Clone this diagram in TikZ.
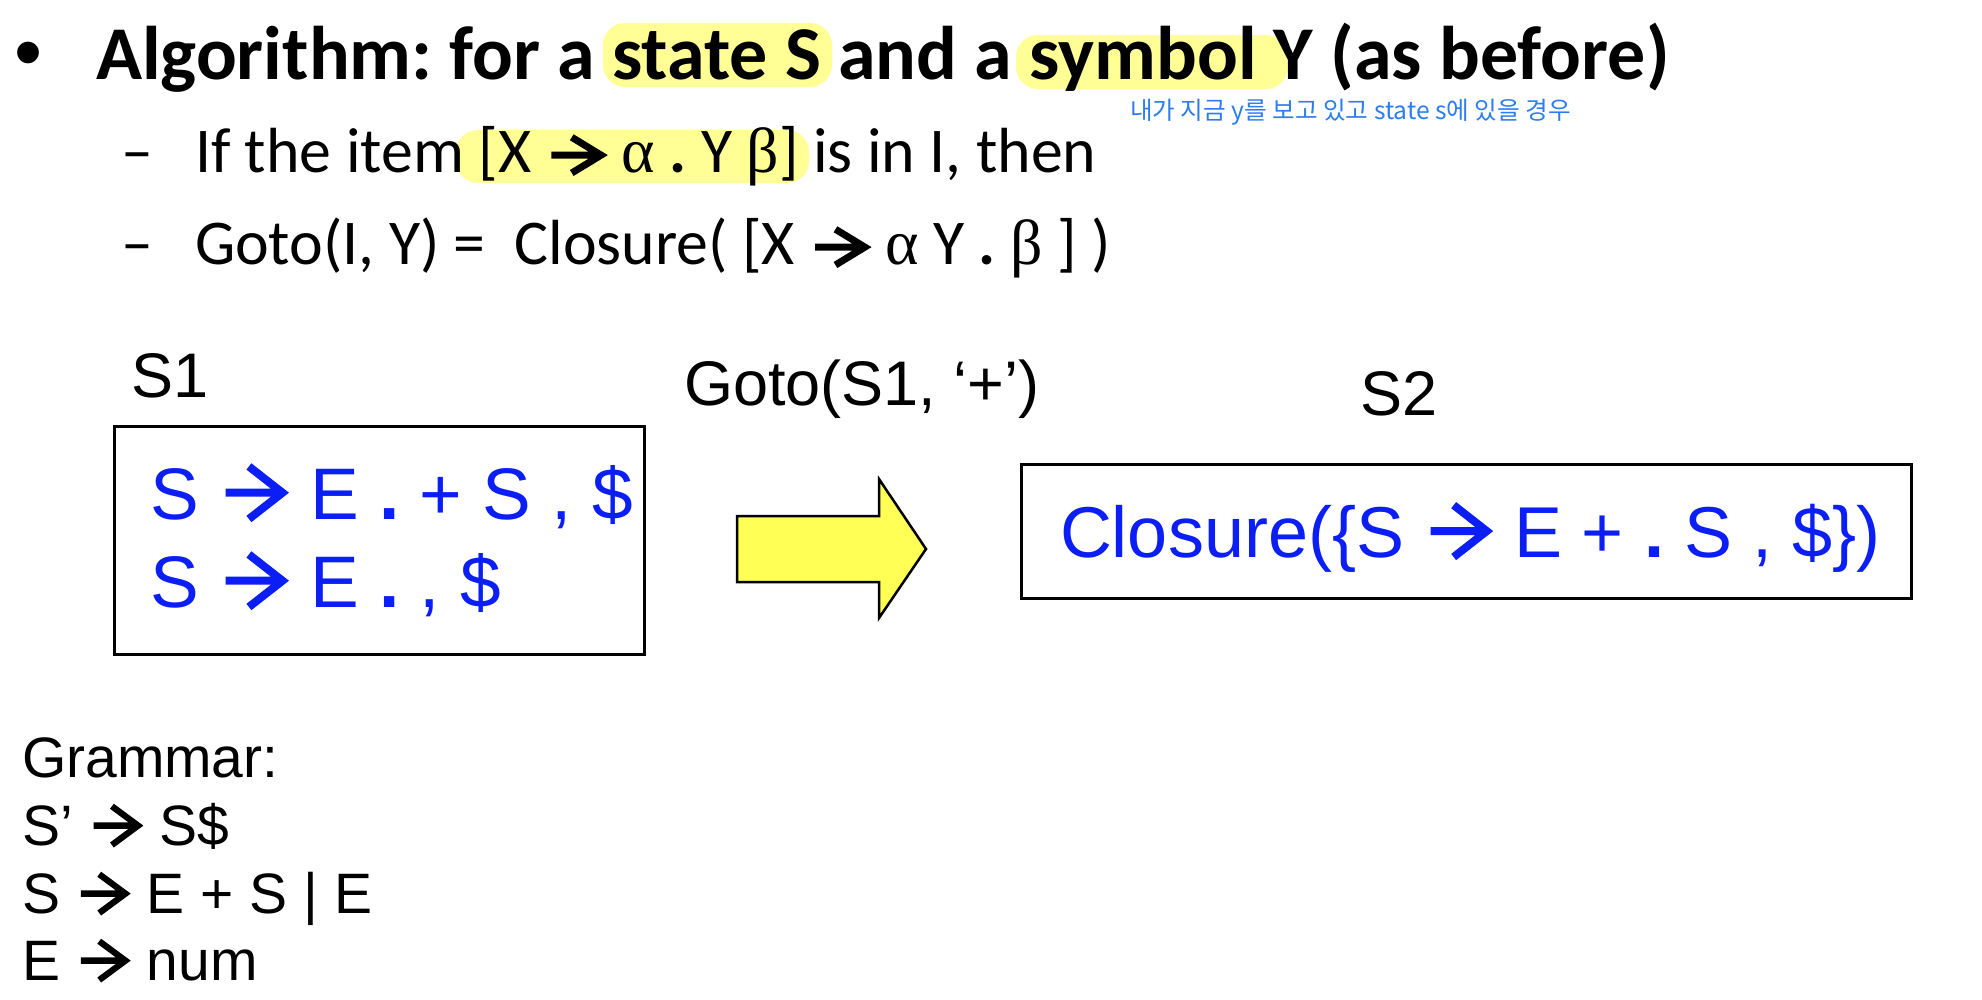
\documentclass[tikz,border=0pt]{standalone}
\usepackage{fontspec}
\setmainfont{Liberation Sans}
\newfontfamily\calfont{Carlito}
\newfontfamily\serfont{Liberation Serif}
\newfontfamily\krfont{Noto Sans CJK KR}
\frenchspacing
\definecolor{hl}{RGB}{255,255,150}
\definecolor{itemblue}{RGB}{10,30,245}
\definecolor{noteblue}{RGB}{45,125,240}
\definecolor{arrowyellow}{RGB}{255,255,85}
\newcommand\arr[1][0.35]{\tikz[baseline={(0pt,-#1em)},x=1em,y=1em]{\path (-0.09,0) (0.88,0); \draw[line width=0.11em] (0,0) -- (0.7,0) (0.32,#1) -- (0.78,0) -- (0.32,-#1);}}
\tikzset{
  lbl/.style={anchor=base west, inner sep=0pt, outer sep=0pt},
  titletext/.style={lbl, font=\calfont\bfseries\fontsize{76}{90}\selectfont},
  subtext/.style={lbl, font=\calfont\fontsize{63.8}{75}\selectfont},
  arialtext/.style={lbl, font=\fontsize{63}{75}\selectfont},
  boxtext/.style={lbl, text=itemblue, font=\fontsize{73}{88}\selectfont},
  gramtext/.style={lbl, font=\fontsize{57}{68}\selectfont},
  statebox/.style={draw, line width=3pt, inner sep=0pt, anchor=north west},
  highlight/.style={fill=hl, rounded corners=22pt},
}
\begin{document}
\begin{tikzpicture}[x=1pt,y=-1pt]
\useasboundingbox (0,0) rectangle (1982,1000);
\fill[white] (0,0) rectangle (1982,1000);
% highlights
\fill[highlight] (603,23) rectangle (832,87);
\fill[highlight] (1016,35) rectangle (1288,89);
\fill[highlight] (456,130) rectangle (809,183);
% title
\node (bullet) [lbl, font=\fontsize{80}{90}\selectfont] at (14,80) {•};
\node (title) [titletext] at (96,80) {Algorithm: for a state S and a symbol Y (as before)};
\node (note) [lbl, text=noteblue, font=\krfont\fontsize{24.6}{28}\selectfont] at (1130,120) {내가 지금 y를 보고 있고 state s에 있을 경우};
% sub-bullets
\node (dash1) [subtext] at (121,173) {–};
\node (line1) [subtext] at (195,173) {If the item [X \arr[0.28] {\serfont α} \textbf{.} Y {\serfont β}] is in I, then};
\node (dash2) [subtext] at (121,265) {–};
\node (line2) [subtext] at (195,265) {Goto(I, Y) = \ Closure( [X \arr[0.28] {\serfont α} Y \textbf{.} {\serfont β} ] )};
% states
\node (s1label) [arialtext] at (131,397) {S1};
\node (s1box) [statebox, minimum width=530pt, minimum height=228pt] at (113,425) {};
\node (s1a) [boxtext] at (150,519) {S \arr[0.36] E \textbf{.} + S , \$};
\node (s1b) [boxtext] at (150,607) {S \arr[0.36] E \textbf{.} , \$};
\node (gotolabel) [arialtext] at (684,405) {Goto(S1, ‘+’)};
\node (s2label) [arialtext] at (1360,415) {S2};
\node (s2box) [statebox, minimum width=890pt, minimum height=134pt] at (1020,463) {};
\node (s2a) [boxtext, font=\fontsize{72}{88}\selectfont] at (1060,557) {Closure(\{S \arr[0.36] E + \textbf{.} S , \$\})};
% big arrow
\draw[fill=arrowyellow, line width=2.5pt, line join=miter] (737,516) -- (879,516) -- (879,479) -- (926,549) -- (879,618) -- (879,582) -- (737,582) -- cycle;
% grammar
\node (g0) [gramtext] at (22,777) {Grammar:};
\node (g1) [gramtext] at (22,845) {S’ \arr[0.34] S\$};
\node (g2) [gramtext] at (22,913) {S \arr[0.34] E + S | E};
\node (g3) [gramtext] at (22,980) {E \arr[0.34] num};
\end{tikzpicture}
\end{document}
